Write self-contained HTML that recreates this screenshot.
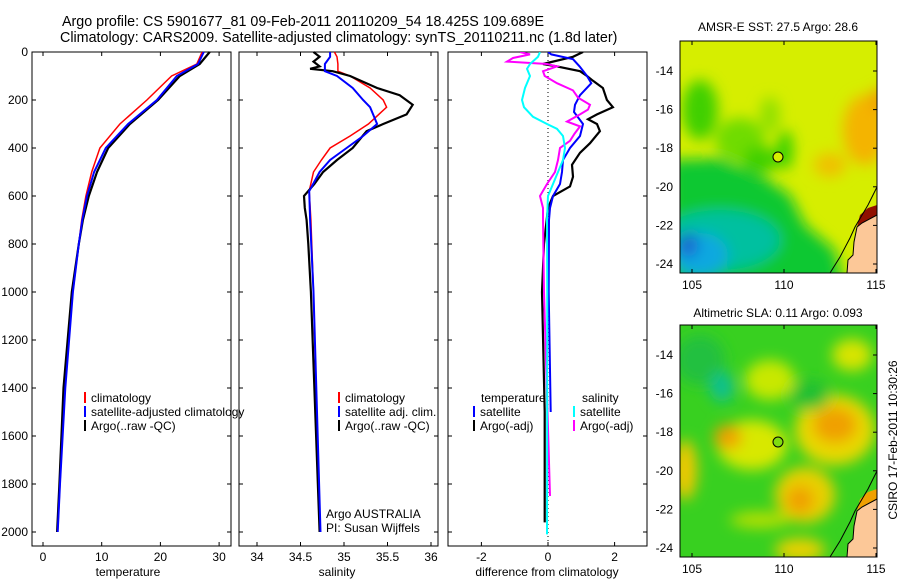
<!DOCTYPE html>
<html><head><meta charset="utf-8">
<style>
body{margin:0;background:#fff;}
svg{display:block;font-family:"Liberation Sans",sans-serif;}
text{font-size:12px;fill:#000;}
</style></head>
<body>
<svg id="fig" width="900" height="580" viewBox="0 0 900 580">
<defs>
<filter id="bl" x="-50%" y="-50%" width="200%" height="200%"><feGaussianBlur stdDeviation="7"/></filter>
<clipPath id="c1"><rect x="680" y="41" width="197" height="232"/></clipPath>
<clipPath id="c2"><rect x="680" y="325" width="197" height="232"/></clipPath>
<clipPath id="p3"><rect x="448" y="52" width="200" height="494"/></clipPath>
</defs>
<text x="62" y="26" style="font-size:14.3px">Argo profile: CS 5901677_81 09-Feb-2011 20110209_54 18.425S 109.689E</text>
<text x="60" y="42" style="font-size:14.3px">Climatology: CARS2009. Satellite-adjusted climatology: synTS_20110211.nc (1.8d later)</text>

<!-- map 1 -->
<g clip-path="url(#c1)">
<rect x="680" y="41" width="197" height="232" fill="#d6ee00"/>
<g filter="url(#bl)">
<ellipse cx="700" cy="110" rx="18" ry="30" fill="#40d000"/>
<ellipse cx="740" cy="140" rx="25" ry="22" fill="#70dc00"/>
<ellipse cx="770" cy="115" rx="10" ry="18" fill="#90e000"/>
<ellipse cx="760" cy="160" rx="18" ry="14" fill="#40d000"/>
<ellipse cx="785" cy="150" rx="8" ry="20" fill="#30d000"/>
<polygon points="670,160 720,158 765,178 790,195 805,225 835,250 845,290 670,290" fill="#10c830"/>
<ellipse cx="720" cy="240" rx="60" ry="30" fill="#00c0a0"/>
<ellipse cx="700" cy="255" rx="28" ry="22" fill="#10a8e0"/>
<ellipse cx="688" cy="245" rx="10" ry="12" fill="#1860d0"/>
<ellipse cx="865" cy="130" rx="22" ry="35" fill="#f4b400"/>
<ellipse cx="830" cy="165" rx="16" ry="12" fill="#f0c000"/>
<ellipse cx="880" cy="100" rx="10" ry="12" fill="#f0a000"/>
</g>
<polygon points="847,273 848,260 853,255 854,242 857,227 862,223 877,215 877,273" fill="#fcc898"/>
<polygon points="857,227 862,223 877,215 877,205 868,208 860,215" fill="#901000"/>
<polyline points="830,273 840,257 850,238 855,227 868,205 877,187" fill="none" stroke="#000" stroke-width="1"/>
<polyline points="847,273 848,260 853,255 854,242 857,227 862,223 877,215" fill="none" stroke="#000" stroke-width="1"/>
</g>
<rect x="680" y="41" width="197" height="232" fill="none" stroke="#000"/>
<circle cx="778" cy="157" r="5" fill="#d6ee00" stroke="#000"/>
<text x="778" y="31" text-anchor="middle">AMSR-E SST: 27.5 Argo: 28.6</text>

<!-- map 2 -->
<g clip-path="url(#c2)">
<rect x="680" y="325" width="197" height="232" fill="#38d020"/>
<g filter="url(#bl)">
<ellipse cx="700" cy="360" rx="25" ry="25" fill="#20c040"/>
<ellipse cx="752" cy="445" rx="35" ry="25" fill="#d8e800"/>
<ellipse cx="728" cy="437" rx="14" ry="12" fill="#f0a000"/>
<ellipse cx="835" cy="430" rx="40" ry="35" fill="#e8d800"/>
<ellipse cx="835" cy="425" rx="22" ry="18" fill="#f0a000"/>
<ellipse cx="805" cy="495" rx="30" ry="28" fill="#e8d000"/>
<ellipse cx="800" cy="500" rx="14" ry="14" fill="#f0a000"/>
<ellipse cx="685" cy="470" rx="12" ry="30" fill="#f0c800"/>
<ellipse cx="770" cy="380" rx="25" ry="20" fill="#c8e800"/>
<ellipse cx="852" cy="355" rx="20" ry="16" fill="#d8e400"/>
<ellipse cx="800" cy="550" rx="25" ry="12" fill="#e8d000"/>
<ellipse cx="722" cy="387" rx="12" ry="15" fill="#10c090"/>
<ellipse cx="760" cy="520" rx="30" ry="8" fill="#b8e000"/>
<ellipse cx="810" cy="395" rx="20" ry="15" fill="#20c030"/>
</g>
<polygon points="847,557 848,544 853,539 854,526 857,511 862,507 877,499 877,557" fill="#fcc898"/>
<polygon points="857,511 862,507 877,499 877,489 868,492 860,499" fill="#f0a000"/>
<polyline points="830,557 840,541 850,522 855,511 868,489 877,471" fill="none" stroke="#000"/>
<polyline points="847,557 848,544 853,539 854,526 857,511 862,507 877,499" fill="none" stroke="#000"/>
</g>
<rect x="680" y="325" width="197" height="232" fill="none" stroke="#000"/>
<circle cx="778" cy="442" r="5" fill="#80dc10" stroke="#000"/>
<text x="778" y="317" text-anchor="middle">Altimetric SLA: 0.11 Argo: 0.093</text>
<text transform="translate(897,440) rotate(-90)" text-anchor="middle">CSIRO 17-Feb-2011 10:30:26</text>

<g id="plots"></g>
</svg>
<script>
// depth profiles (m) and values
const depthT = [0,50,100,200,300,400,500,600,700,800,1000,1400,1800,2000];
const tClim = [27.1,26.2,21.9,17.7,13.1,9.7,8.3,7.3,6.6,6.1,5.1,3.7,2.9,2.5];
const tSat  = [27.4,26.4,22.8,19.4,14.5,10.7,8.7,7.5,6.7,6.1,5.1,3.8,2.9,2.5];
const tArgo = [28.4,26.7,23.3,19.6,14.8,11.1,9.2,7.8,6.8,6.1,4.9,3.5,2.8,2.4];

const depthS = [0,20,50,80,100,150,200,230,300,350,400,450,500,580,700,1000,2000];
const sClim = [34.89,34.92,34.93,34.93,35.07,35.30,35.45,35.49,35.28,35.07,34.84,34.74,34.65,34.60,34.62,34.65,34.72];
const sSat  = [34.84,34.84,34.78,34.78,34.92,35.10,35.22,35.30,35.38,35.22,35.03,34.84,34.72,34.60,34.61,34.65,34.73];
const depthSA = [0,20,40,60,70,80,100,150,180,220,260,300,330,400,450,500,550,600,650,700,800,1000,2000];
const sArgo = [34.65,34.72,34.65,34.72,34.61,34.87,35.07,35.38,35.64,35.79,35.72,35.45,35.26,35.10,34.92,34.76,34.66,34.54,34.55,34.57,34.59,34.62,34.72];

const depthD = [0,20,50,60,80,100,120,150,200,230,260,280,300,330,380,420,470,520,560,600,650,800,1000,1500,1960];
const dTArgo = [1.05,0.75,-0.15,0.27,0.96,1.17,1.35,1.65,1.77,1.95,1.47,1.2,1.47,1.56,1.26,0.96,0.72,0.75,0.66,0.15,0,-0.12,-0.18,-0.1,-0.1];
const depthB = [0,10,30,60,100,130,180,220,250,300,350,400,450,500,550,600,650,700,1000,1500];
const dTSat = [0,0.1,0.75,0.95,1.17,1.3,0.96,0.81,0.78,1.05,0.96,0.66,0.45,0.42,0.36,0.15,0.06,0.03,0.02,0.08];
const depthC = [0,20,50,70,100,150,200,230,270,300,320,350,400,450,500,550,600,700,1000,2010];
const dSSat = [-0.24,-0.3,-0.54,-0.63,-0.54,-0.69,-0.78,-0.72,-0.45,-0.03,0.27,0.45,0.51,0.45,0.3,0.15,0,-0.03,-0.02,-0.03];
const depthM = [0,10,25,40,50,60,80,100,130,160,190,220,240,260,290,310,340,370,400,450,500,550,600,650,700,1000,1850];
const dSArgo = [-0.84,-0.54,-1.05,-1.23,-0.03,0.27,-0.15,-0.1,0.27,0.75,0.9,1.26,1.2,0.96,0.57,0.96,0.8,0.66,0.36,0.3,0.21,-0.03,-0.24,-0.15,-0.15,-0.12,0.06];

const depthTicks = [0,200,400,600,800,1000,1200,1400,1600,1800,2000];
const tTicks = [0,10,20,30];
const sTicks = [34,34.5,35,35.5,36];
const sTickLabels = ["34","34.5","35","35.5","36"];
const dTicks = [-2,0,2];
const lonTicks = [105,110,115];
const latTicks = [-14,-16,-18,-20,-22,-24];

const NS='http://www.w3.org/2000/svg';
const g=document.getElementById('plots');
const yD = d => 52 + d*0.24;
const xT = t => 43 + t*5.87;
const xS = s => 257 + (s-34)*87;
const xDf = v => 548 + v*33.3;
function mk(tag,attrs,parent){const e=document.createElementNS(NS,tag);for(const k in attrs)e.setAttribute(k,attrs[k]);(parent||g).appendChild(e);return e;}
function txt(x,y,s,anchor){const e=mk('text',{x:x,y:y,'text-anchor':anchor||'start'});e.textContent=s;return e;}
function line(depths,vals,xf,color,w,name,clip){
  const pts=depths.map((d,i)=>xf(vals[i]).toFixed(1)+','+yD(d).toFixed(1)).join(' ');
  const e=mk('polyline',{points:pts,fill:'none',stroke:color,'stroke-width':w});
  if(clip)e.setAttribute('clip-path',clip);
  
  
}
function frame(x0,name){
  const r=mk('rect',{x:x0,y:52,width:199,height:494,fill:'none',stroke:'#000'});
  
  
}
frame(32,'temperature-panel');
frame(239,'salinity-panel');
frame(448,'difference-panel');
depthTicks.forEach(d=>{
  const y=yD(d);
  [[32,36],[227,231],[239,243],[434,438],[448,452],[643,647]].forEach(p=>mk('line',{x1:p[0],x2:p[1],y1:y,y2:y,stroke:'#000'}));
  const t=txt(28,y+4,String(d),'end');
  
  
});
tTicks.forEach(v=>{const x=xT(v);mk('line',{x1:x,x2:x,y1:542,y2:546,stroke:'#000'});mk('line',{x1:x,x2:x,y1:52,y2:56,stroke:'#000'});
  const t=txt(x,561,String(v),'middle');});
sTicks.forEach((v,i)=>{const x=xS(v);mk('line',{x1:x,x2:x,y1:542,y2:546,stroke:'#000'});mk('line',{x1:x,x2:x,y1:52,y2:56,stroke:'#000'});
  const t=txt(x,561,sTickLabels[i],'middle');});
dTicks.forEach(v=>{const x=xDf(v);mk('line',{x1:x,x2:x,y1:542,y2:546,stroke:'#000'});mk('line',{x1:x,x2:x,y1:52,y2:56,stroke:'#000'});
  const t=txt(x,561,String(v),'middle');});
let a=txt(128,576,'temperature','middle');
a=txt(337,576,'salinity','middle');
a=txt(547,576,'difference from climatology','middle');
mk('line',{x1:xDf(0),x2:xDf(0),y1:52,y2:546,stroke:'#000','stroke-dasharray':'1,3'});
line(depthT,tClim,xT,'#f00',1.5,'temperature-climatology-line');
line(depthT,tArgo,xT,'#000',2.2,'temperature-argo-line');
line(depthT,tSat,xT,'#00f',2,'temperature-satellite-line');
line(depthS,sClim,xS,'#f00',1.5,'salinity-climatology-line');
line(depthSA,sArgo,xS,'#000',2.2,'salinity-argo-line');
line(depthS,sSat,xS,'#00f',2,'salinity-satellite-line');
line(depthD,dTArgo,xDf,'#000',2.2,'temperature-argo-diff-line','url(#p3)');
line(depthB,dTSat,xDf,'#00f',2,'temperature-satellite-diff-line','url(#p3)');
line(depthM,dSArgo,xDf,'#f0f',2,'salinity-argo-diff-line','url(#p3)');
line(depthC,dSSat,xDf,'#0ff',2,'salinity-satellite-diff-line','url(#p3)');
function leg(x,y,c,s,name){mk('rect',{x:x,y:y-10,width:2,height:11,fill:c});const t=txt(x+7,y,s);}
leg(84,402,'#f00','climatology','legend-climatology');
leg(84,416,'#00f','satellite-adjusted climatology','legend-satellite-adjusted');
leg(84,430,'#000','Argo(..raw -QC)','legend-argo-raw');
leg(338,402,'#f00','climatology','legend-sal-climatology');
leg(338,416,'#00f','satellite adj. clim.','legend-sal-satellite');
leg(338,430,'#000','Argo(..raw -QC)','legend-sal-argo');
a=txt(481,402,'temperature');
leg(473,416,'#00f','satellite','legend-diff-temp-satellite');
leg(473,430,'#000','Argo(-adj)','legend-diff-temp-argo');
a=txt(582,402,'salinity');
leg(573,416,'#0ff','satellite','legend-diff-sal-satellite');
leg(573,430,'#f0f','Argo(-adj)','legend-diff-sal-argo');
a=txt(326,518,'Argo AUSTRALIA');
a=txt(326,532,'PI: Susan Wijffels');
[[41,273],[325,557]].forEach((m,k)=>{
  const top=m[0],bot=m[1];
  lonTicks.forEach(L=>{const x=692+(L-105)*18.4;
    mk('line',{x1:x,x2:x,y1:bot-4,y2:bot,stroke:'#000'});mk('line',{x1:x,x2:x,y1:top,y2:top+4,stroke:'#000'});
    const t=txt(x,bot+16,String(L),'middle');});
  latTicks.forEach(la=>{const y=top+30+(-14-la)*19.3;
    mk('line',{x1:873,x2:877,y1:y,y2:y,stroke:'#000'});
    const t=txt(673,y+4,String(la),'end');});
});
</script>
</body></html>
